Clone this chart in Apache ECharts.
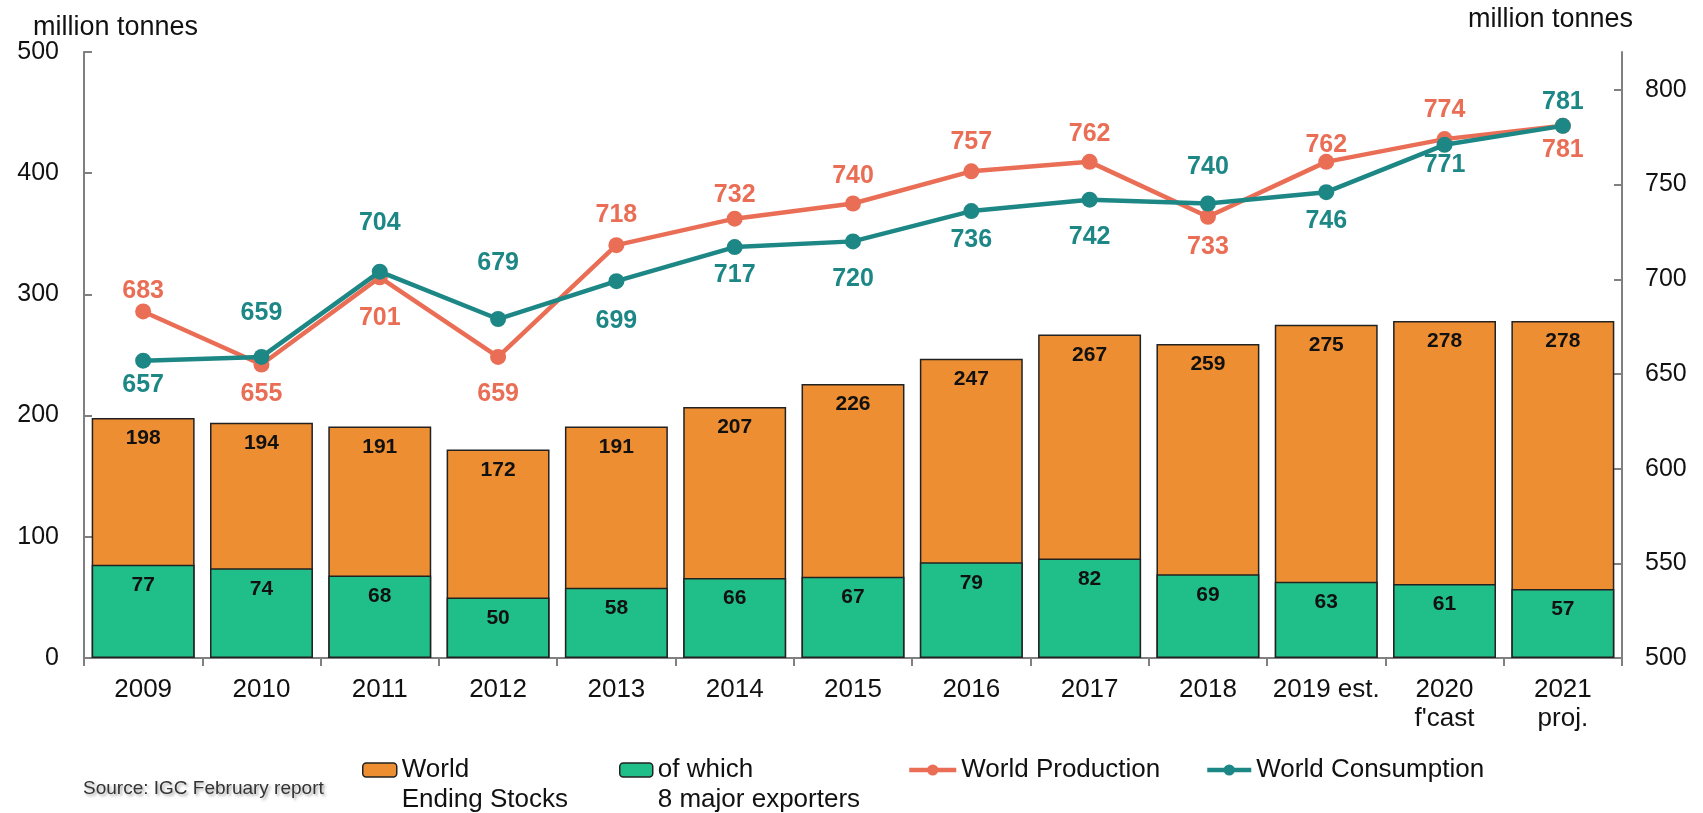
<!DOCTYPE html>
<html>
<head>
<meta charset="utf-8">
<script src="https://cdn.jsdelivr.net/npm/echarts@6/dist/echarts.min.js"></script>
<style>
html,body{margin:0;padding:0;background:#fff;}
#chart{width:1703px;height:813px;}
</style>
</head>
<body>
<div id="chart"></div>
<script>
// ---- data ----
const categories = ['2009','2010','2011','2012','2013','2014','2015','2016','2017','2018','2019 est.','2020\nf\'cast','2021\nproj.'];
const endingStocks = [198,194,191,172,191,207,226,247,267,259,275,278,278];
const majorExporters = [77,74,68,50,58,66,67,79,82,69,63,61,57];
const production = [683,655,701,659,718,732,740,757,762,733,762,774,781];
const consumption = [657,659,704,679,699,717,720,736,742,740,746,771,781];
const leftTicks = [0,100,200,300,400,500];
const rightTicks = [500,550,600,650,700,750,800];

// ---- label placement (style only) ----
const prodLabelDy = [-20,30,41,37,-30,-24,-27,-29,-28,30,-17,-29,24];
const consLabelDy = [24,-44,-49,-56,40,28,38,29,37,-36,29,20,-24];

const FONT = '"Liberation Sans", Arial, sans-serif';
const ORANGE = '#EE8E32', GREEN = '#20BF89', PROD = '#EA6E55', CONS = '#1D8786';
const AXIS = '#808080';

const chart = echarts.init(document.getElementById('chart'));

const lineData = (vals, dys) => vals.map((v, i) => ({value: v, label: {offset: [0, dys[i]]}}));

const legendText = {fontFamily: FONT, fontSize: 26, color: '#111', lineHeight: 30};
const legendBase = {orient: 'horizontal', padding: 0, itemGap: 0, selectedMode: false, textStyle: legendText};

chart.setOption({
  animation: false,
  textStyle: {fontFamily: FONT},
  title: [
    {text: 'million tonnes', left: 33, top: 14, padding: 0,
     textStyle: {fontFamily: FONT, fontSize: 27, fontWeight: 'normal', color: '#111'}},
    {text: 'million tonnes', left: 1468, top: 6, padding: 0,
     textStyle: {fontFamily: FONT, fontSize: 27, fontWeight: 'normal', color: '#111'}},
    {text: 'Source: IGC February report', left: 83, top: 779, padding: 0,
     textStyle: {fontFamily: FONT, fontSize: 19, fontWeight: 'normal', color: '#333',
       textShadowColor: 'rgba(0,0,0,0.35)', textShadowBlur: 3, textShadowOffsetX: 2, textShadowOffsetY: 2}}
  ],
  legend: [
    Object.assign({}, legendBase, {left: 362, top: 725, itemWidth: 34, itemHeight: 14,
      data: ['World\nEnding Stocks'], formatter: n => '\n' + n,
      itemStyle: {borderColor: '#222', borderWidth: 1.5}}),
    Object.assign({}, legendBase, {left: 619, top: 725, itemWidth: 33, itemHeight: 14,
      data: ['of which\n8 major exporters'], formatter: n => '\n' + n,
      itemStyle: {borderColor: '#222', borderWidth: 1.5}}),
    Object.assign({}, legendBase, {left: 907, top: 755, itemWidth: 47, itemHeight: 14,
      data: ['World Production'], lineStyle: {width: 4.5}}),
    Object.assign({}, legendBase, {left: 1205, top: 755, itemWidth: 44, itemHeight: 14,
      data: ['World Consumption'], lineStyle: {width: 4.5}})
  ],
  grid: {left: 84, right: 81, top: 52, bottom: 155, containLabel: false},
  xAxis: {
    type: 'category', data: categories, boundaryGap: true,
    axisLine: {lineStyle: {color: AXIS, width: 2}},
    axisTick: {show: true, inside: false, length: 8, lineStyle: {color: AXIS, width: 2}},
    axisLabel: {color: '#111', fontSize: 26, margin: 17, lineHeight: 29, interval: 0, fontFamily: FONT},
    splitLine: {show: false}
  },
  yAxis: [
    {
      type: 'value', min: 0, max: 500, interval: 100, position: 'left',
      axisLine: {show: true, lineStyle: {color: AXIS, width: 2}},
      axisTick: {show: true, inside: true, length: 8, lineStyle: {color: AXIS, width: 2}},
      axisLabel: {color: '#111', fontSize: 25, margin: 25, fontFamily: FONT, customValues: leftTicks},
      splitLine: {show: false}
    },
    {
      type: 'value', min: 500, max: 820, interval: 50, position: 'right',
      axisLine: {show: true, lineStyle: {color: AXIS, width: 2}},
      axisTick: {show: true, inside: true, length: 8, lineStyle: {color: AXIS, width: 2}, customValues: rightTicks},
      axisLabel: {color: '#111', fontSize: 25, margin: 23, fontFamily: FONT, customValues: rightTicks},
      splitLine: {show: false}
    }
  ],
  series: [
    {
      name: 'World\nEnding Stocks', type: 'bar', yAxisIndex: 0, data: endingStocks,
      barCategoryGap: '13%', barGap: '-100%',
      itemStyle: {color: ORANGE, borderColor: '#222', borderWidth: 1.5},
      label: {show: true, position: 'insideTop', distance: 10, color: '#111', fontSize: 21, fontWeight: 'bold', fontFamily: FONT}
    },
    {
      name: 'of which\n8 major exporters', type: 'bar', yAxisIndex: 0, data: majorExporters,
      barCategoryGap: '13%', barGap: '-100%',
      itemStyle: {color: GREEN, borderColor: '#222', borderWidth: 1.5},
      label: {show: true, position: 'insideTop', distance: 10, color: '#111', fontSize: 21, fontWeight: 'bold', fontFamily: FONT}
    },
    {
      name: 'World Production', type: 'line', yAxisIndex: 1, data: lineData(production, prodLabelDy),
      symbol: 'circle', symbolSize: 16, z: 5,
      lineStyle: {color: PROD, width: 4.5}, itemStyle: {color: PROD},
      label: {show: true, position: 'inside', color: PROD, fontSize: 25, fontWeight: 'bold', fontFamily: FONT}
    },
    {
      name: 'World Consumption', type: 'line', yAxisIndex: 1, data: lineData(consumption, consLabelDy),
      symbol: 'circle', symbolSize: 16, z: 6,
      lineStyle: {color: CONS, width: 4.5}, itemStyle: {color: CONS},
      label: {show: true, position: 'inside', color: CONS, fontSize: 25, fontWeight: 'bold', fontFamily: FONT}
    }
  ]
});
</script>
</body>
</html>
